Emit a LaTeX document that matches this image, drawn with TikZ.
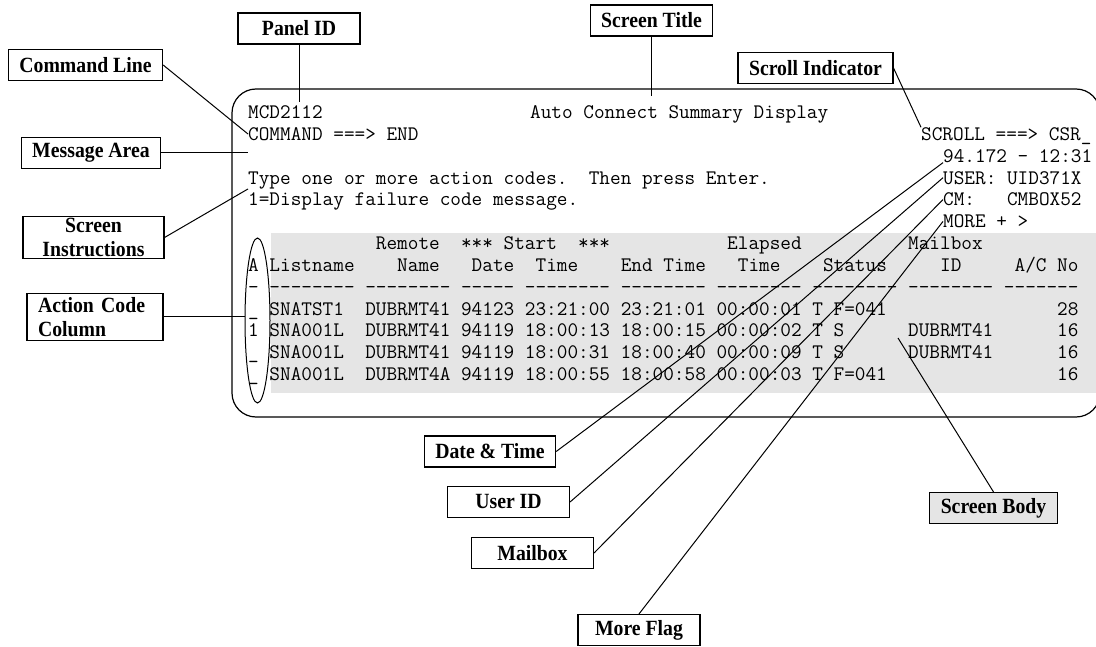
\documentclass[tikz,border=0pt]{standalone}
\usepackage{fontspec}
\newfontfamily\tagfont[FakeStretch=0.91]{Liberation Serif}
\usetikzlibrary{positioning,shapes.geometric}

\begin{document}
\begin{tikzpicture}[x=1pt,y=-1pt,
    tag/.style={draw,line width=1.1pt,fill=white,minimum width=122pt,minimum height=31pt,
        inner xsep=11pt,inner ysep=2pt,font=\tagfont\bfseries\fontsize{21.7}{23.5}\selectfont},
    scr/.style={anchor=base west,inner sep=0pt,font=\ttfamily\fontsize{20.67}{21.85}\selectfont},
    lead/.style={line width=1pt}]
    \useasboundingbox (0,0) rectangle (1096,647);
    \clip (0,0) rectangle (1096,647);

    % Screen frame and shaded table
    \fill[black!10] (271,233) rectangle (1110,393);
    \draw[line width=1.2pt,rounded corners=24pt] (232,89) rectangle (1100,417);

    % Screen header lines
    \node[scr] (mcd) at (248,118.5) {MCD2112};
    \node[scr] (title) at (530,118.5) {Auto Connect Summary Display};
    \node[scr] (command) at (248,140.35) {COMMAND ===> END};
    \node[scr] (scroll) at (921,140.35) {SCROLL ===> CSR\_};
    \node[scr] (datestamp) at (943,162.2) {94.172 - 12:31};
    \node[scr] (type) at (248,184.05) {Type one or more action codes.~~Then press Enter.};
    \node[scr] (user) at (943,184.05) {USER: UID371X};
    \node[scr] (help) at (248,205.9) {1=Display failure code message.};
    \node[scr] (cm) at (943,205.9) {CM:~~~CMBOX52};
    \node[scr] (more) at (943,227.75) {MORE + >};

    % Table body
    \node[scr] (head1) at (248,249.6) {~~~~~~~~~~~~Remote~~***~Start~~***~~~~~~~~~~~Elapsed~~~~~~~~~~Mailbox};
    \node[scr] (head2) at (248,271.45) {A~Listname~~~~Name~~~Date~~Time~~~~End~Time~~~Time~~~~Status~~~~~ID~~~~~A/C~No};
    \node[scr] (rule) at (248,293.3) {-~--------~--------~-----~--------~--------~--------~--------~--------~-------};
    \node[scr] (row1) at (248,315.15) {\_~SNATST1~~DUBRMT41~94123~23:21:00~23:21:01~00:00:01~T~F=041~~~~~~~~~~~~~~~~28};
    \node[scr] (row2) at (248,337) {1~SNA001L~~DUBRMT41~94119~18:00:13~18:00:15~00:00:02~T~S~~~~~~DUBRMT41~~~~~~16};
    \node[scr] (row3) at (248,358.85) {\_~SNA001L~~DUBRMT41~94119~18:00:31~18:00:40~00:00:09~T~S~~~~~~DUBRMT41~~~~~~16};
    \node[scr] (row4) at (248,380.7) {\_~SNA001L~~DUBRMT4A~94119~18:00:55~18:00:58~00:00:03~T~F=041~~~~~~~~~~~~~~~~16};

    % Action code column ring
    \node[draw,ellipse,line width=1pt,minimum width=25pt,minimum height=165pt,inner sep=0pt] (acol) at (257.5,320.5) {};
    \coordinate (bodypt) at (898,338);

    % Callout boxes
    \node[tag] (panelid) at (299,28.5) {Panel ID};
    \node[tag] (stitle) at (651.5,20.5) {Screen Title};
    \node[tag] (scrollind) at (815.5,68) {Scroll Indicator};
    \node[tag] (cmdline) at (85.5,65) {Command Line};
    \node[tag] (msgarea) at (91,153) {Message Area};
    \node[tag,text width=119pt,align=center] (instr) at (93.5,237.5) {Screen\\Instructions};
    \node[tag,text width=114pt,align=left,inner ysep=4pt] (actcode) at (95,317) {Action Code\\Column};
    \node[tag] (datetime) at (490,451.5) {Date \& Time};
    \node[tag] (userid) at (508.5,502) {User ID};
    \node[tag] (mailbox) at (532.5,553) {Mailbox};
    \node[tag] (moreflag) at (639,630) {More Flag};
    \node[tag,fill=black!10] (scrbody) at (993.5,508) {Screen Body};

    % Leader lines
    \draw[lead] (panelid.south) -- ([yshift=3pt]panelid.south |- mcd.north);
    \draw[lead] (stitle.south) -- ([yshift=9pt]stitle.south |- title.north);
    \draw[lead] (scrollind.east) -- (scroll.north west);
    \draw[lead] (cmdline.east) -- (command.west);
    \draw[lead] (msgarea.east) -- (msgarea.east -| command.west);
    \draw[lead] (instr.east) -- (type.south west);
    \draw[lead] (actcode.east) -- (actcode.east -| acol.west);
    \draw[lead] (datetime.east) -- (datestamp.south west);
    \draw[lead] (userid.east) -- (user.west);
    \draw[lead] (mailbox.east) -- (cm.west);
    \draw[lead] (moreflag.north) -- (more.west);
    \draw[lead] (scrbody.north) -- (bodypt);
\end{tikzpicture}
\end{document}
